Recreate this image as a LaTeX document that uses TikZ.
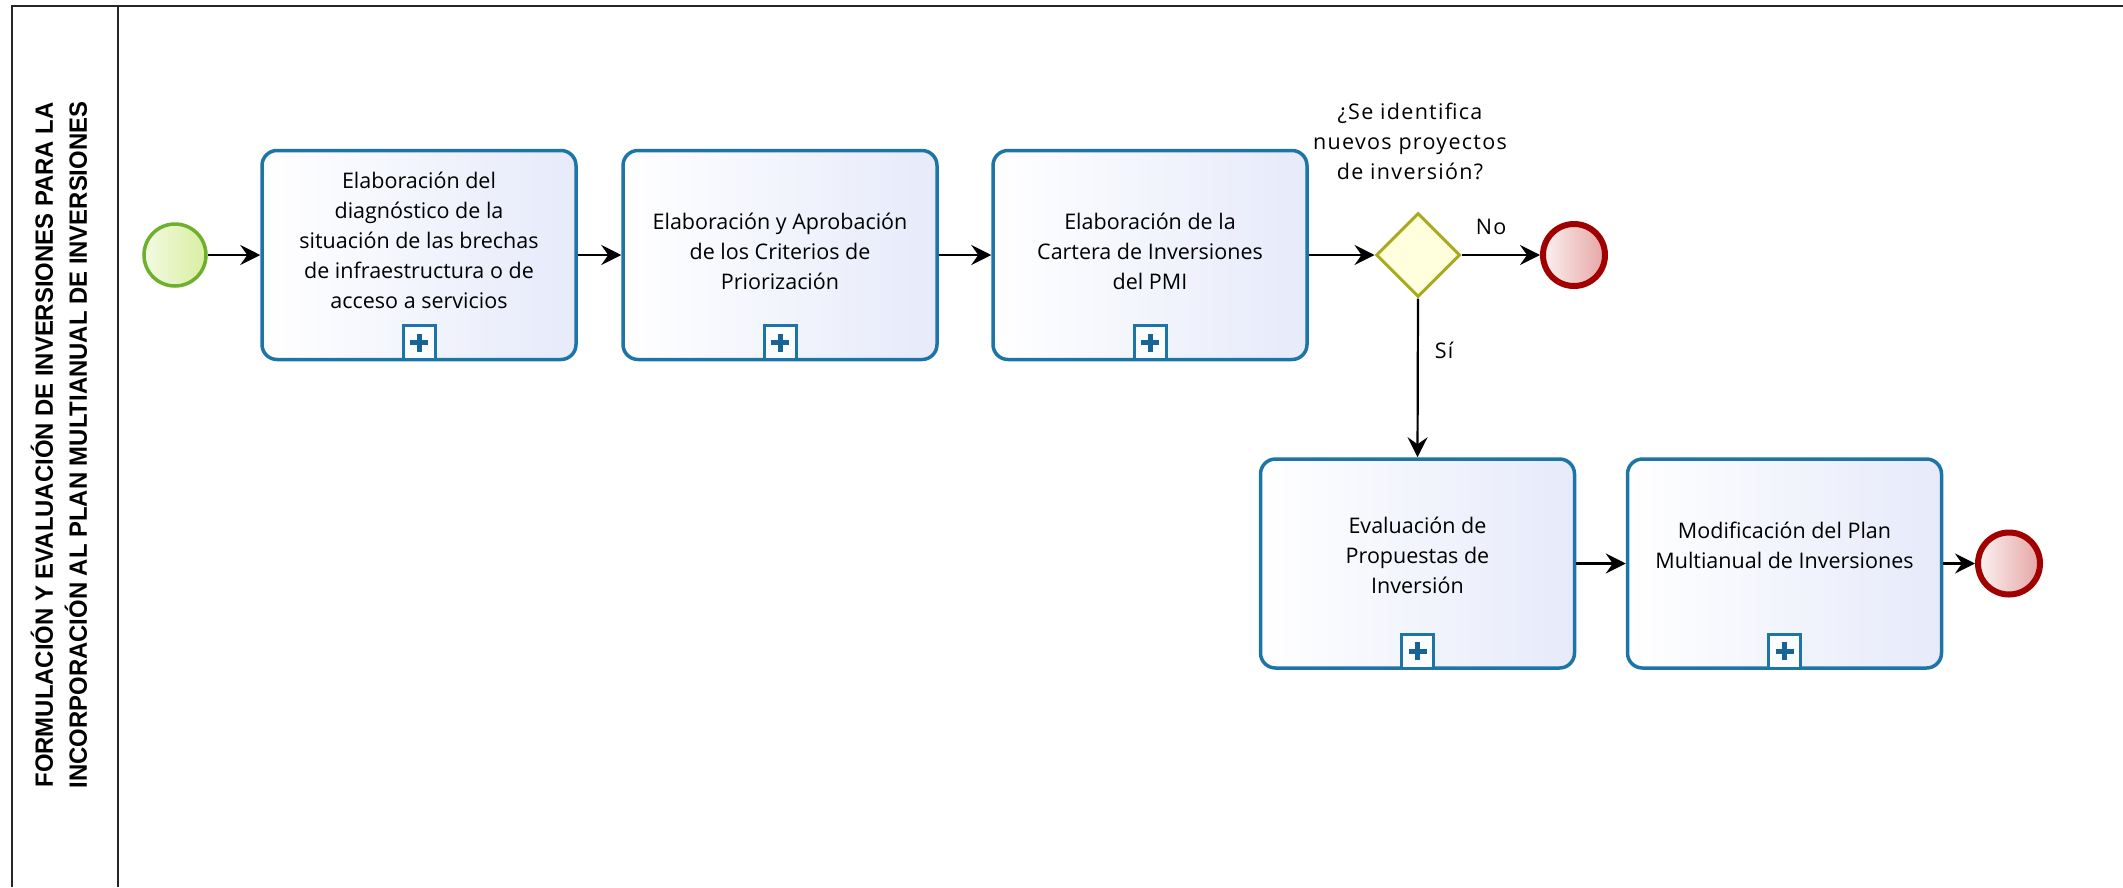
\documentclass[tikz,border=0pt]{standalone}
\usepackage{fontspec}
\setmainfont{Open Sans}
\newfontfamily\qfont[LetterSpace=6]{Open Sans}
\newfontfamily\lanefont{Liberation Sans}
\usetikzlibrary{shapes.geometric,arrows.meta}
\definecolor{taskblue}{RGB}{28,117,166}
\definecolor{taskfill}{RGB}{230,234,250}
\definecolor{startgreen}{RGB}{108,176,44}
\definecolor{startfill}{RGB}{216,238,160}
\definecolor{endred}{RGB}{160,0,0}
\definecolor{endfill}{RGB}{230,165,165}
\definecolor{gwolive}{RGB}{170,170,30}
\definecolor{gwfill}{RGB}{255,255,222}
\definecolor{plusblue}{RGB}{24,100,150}
\newcommand\tasklines[2]{\raisebox{#1}[\height][\depth]{\begin{tabular}{@{}c@{}}#2\end{tabular}}}
\begin{document}
\begin{tikzpicture}[x=1pt,y=-1pt,
  frame/.style={draw=black!85, line width=2.5pt},
  task/.style={draw=taskblue, line width=3.5pt, rounded corners=15pt,
    minimum width=314pt, minimum height=209pt, inner sep=0pt,
    left color=white, right color=taskfill,
    font=\fontsize{21.5}{30}\selectfont},
  marker/.style={draw=taskblue, line width=3pt, fill=white!85!taskfill,
    minimum width=32pt, minimum height=34pt, inner sep=0pt, anchor=south,
    path picture={
      \draw[plusblue, line width=5pt] ([xshift=-9pt]path picture bounding box.center) -- ([xshift=9pt]path picture bounding box.center);
      \draw[plusblue, line width=5pt] ([yshift=-9pt]path picture bounding box.center) -- ([yshift=9pt]path picture bounding box.center);}},
  startev/.style={circle, draw=startgreen, line width=3.5pt, minimum size=62pt, inner sep=0pt,
    left color=white!70!startfill, right color=startfill},
  endev/.style={circle, draw=endred, line width=6pt, minimum size=62pt, inner sep=0pt,
    left color=white!85!endfill, right color=endfill},
  gateway/.style={diamond, aspect=1, draw=gwolive, line width=3pt, minimum width=84pt, minimum height=84pt, inner sep=0pt,
    fill=gwfill},
  flow/.style={-{Stealth[length=20pt,width=20pt,inset=7pt]}, line width=2.2pt, black},
  lbl/.style={font=\qfont\fontsize{21.5}{30}\selectfont, inner sep=0pt, align=center},
  lanelbl/.style={font=\lanefont\bfseries\fontsize{25}{34}\selectfont, rotate=90, inner sep=0pt}
]
\useasboundingbox (0,0) rectangle (2123,887);
% pool frame
\draw[frame] (2123,6) -- (12,6) -- (12,887);
\draw[frame] (118,6) -- (118,887);
\node[lanelbl] (lane) at (63,445) {\scalebox{0.955}[1]{\begin{tabular}{@{}c@{}}FORMULACIÓN Y EVALUACIÓN DE INVERSIONES PARA LA\\INCORPORACIÓN AL PLAN MULTIANUAL DE INVERSIONES\end{tabular}}};

% events and tasks
\node[startev] (start) at (175,255) {};
\node[task] (t1) at (419,255) {\tasklines{13pt}{Elaboración del\\diagnóstico de la\\situación de las brechas\\de infraestructura o de\\acceso a servicios}};
\node[task] (t2) at (780,255) {\tasklines{2pt}{Elaboración y Aprobación\\de los Criterios de\\Priorización}};
\node[task] (t3) at (1150,255) {\tasklines{2pt}{Elaboración de la\\Cartera de Inversiones\\del PMI}};
\node[gateway] (gw) at (1418,255) {};
\node[endev] (end1) at (1574,255) {};
\node[task] (t4) at (1417.5,563.5) {\tasklines{6pt}{Evaluación de\\Propuestas de\\Inversión}};
\node[task] (t5) at (1784.5,563.5) {\tasklines{16pt}{Modificación del Plan\\Multianual de Inversiones}};
\node[endev] (end2) at (2009,563.5) {};

% collapsed sub-process markers
\node[marker] (m1) at (t1.south) {};
\node[marker] (m2) at (t2.south) {};
\node[marker] (m3) at (t3.south) {};
\node[marker] (m4) at (t4.south) {};
\node[marker] (m5) at (t5.south) {};

% question
\node[lbl] (q) at (1410,141) {¿Se identifica\\nuevos proyectos\\de inversión?};

% flows
\draw[flow] (start) -- (t1);
\draw[flow] (t1) -- (t2);
\draw[flow] (t2) -- (t3);
\draw[flow] (t3.east) -- (gw.west);
\draw[flow] (gw.east) -- (end1.west);
\draw[flow] (gw.south) -- (t4.north);
\draw[flow] (t4) -- (t5);
\draw[flow] (t5.east) -- (end2.west);

% flow labels
\node[lbl] (no) at (1491,227) {No};
\node[lbl] (si) at (1444,350) {Sí};
\end{tikzpicture}
\end{document}
